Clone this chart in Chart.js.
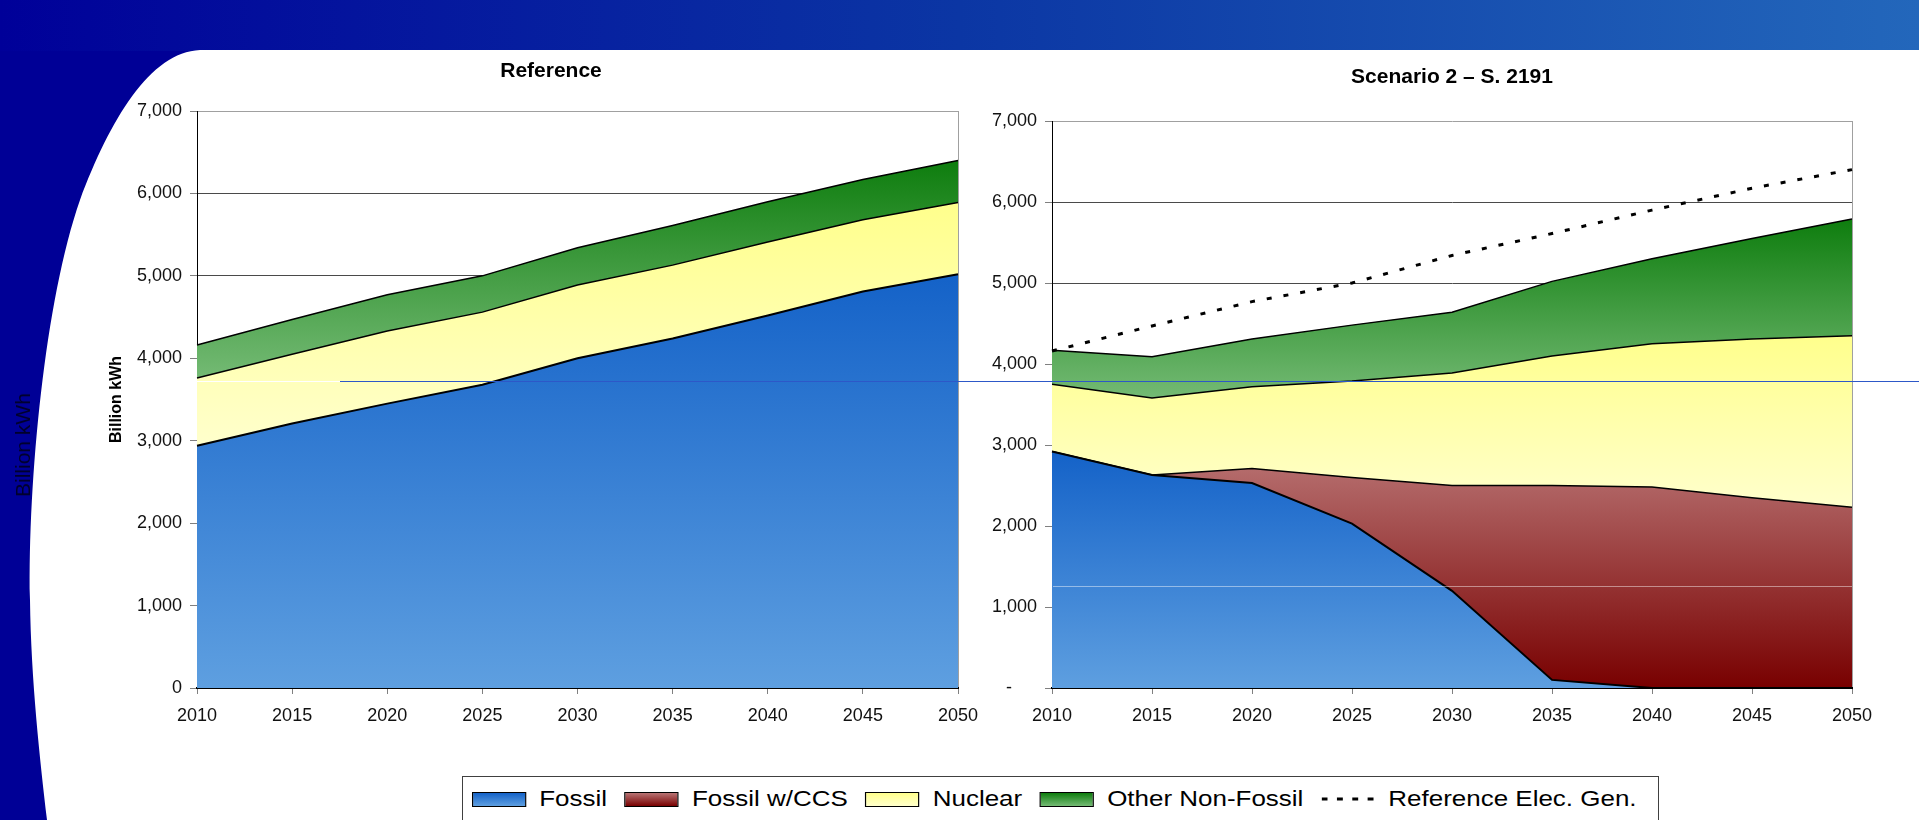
<!DOCTYPE html>
<html>
<head>
<meta charset="utf-8">
<script src="https://cdn.jsdelivr.net/npm/chart.js@4.4.0/dist/chart.umd.min.js"></script>
<style>
  html, body { margin: 0; padding: 0; }
  body { width: 1919px; height: 820px; overflow: hidden; position: relative; background: #fff;
         font-family: "Liberation Sans", Arial, sans-serif; }
  #deco { position: absolute; left: 0; top: 0; }
  #refChart { position: absolute; left: 100px; top: 50px; }
  #s2Chart { position: absolute; left: 980px; top: 50px; }
  .sideLabel { position: absolute; left: 23px; top: 445px; transform: translate(-50%, -50%) rotate(-90deg);
               font-size: 21px; color: #00002a; white-space: nowrap; }
  .hline { position: absolute; height: 1px; }
  #legend { position: absolute; left: 462px; top: 776px; width: 1197px; height: 60px; box-sizing: border-box;
            border: 1px solid #404040; background: #fff; }
  #legendRow { position: absolute; left: 9px; top: 14px; height: 16px; display: flex; align-items: center;
               transform: scaleX(1.18); transform-origin: 0 50%; font-size: 22px; white-space: nowrap; color: #000; }
  .sw { width: 46px; height: 15px; border: 1px solid #000; box-sizing: border-box; margin-right: 11px; }
  .lt { margin-right: 15px; line-height: 16px; }
  .dash { margin-right: 11px; }
</style>
</head>
<body>
<canvas id="deco" width="1919" height="820"></canvas>
<div class="sideLabel">Billion kWh</div>
<canvas id="refChart" width="902" height="710"></canvas>
<canvas id="s2Chart" width="944" height="710"></canvas>
<div class="hline" style="left:197px; top:381px; width:143px; background:#ffffff;"></div>
<div class="hline" style="left:340px; top:381px; width:1579px; background:#2d58c8;"></div>
<div class="hline" style="left:1053px; top:586px; width:799px; background:rgba(255,255,255,0.45);"></div>
<div id="legend"><div id="legendRow"></div></div>

<script>
// years on the x axis
const years = ['2010', '2015', '2020', '2025', '2030', '2035', '2040', '2045', '2050'];

// Reference case (billion kWh)
const refFossil = [2940, 3210, 3450, 3680, 4000, 4240, 4520, 4810, 5020];
const refNuclear = [820, 840, 880, 880, 890, 890, 890, 870, 870];
const refOther = [400, 420, 440, 440, 450, 480, 490, 490, 510];
const refElecGen = [4160, 4470, 4770, 5000, 5340, 5610, 5900, 6170, 6400];

// Scenario 2 - S. 2191 (billion kWh)
const s2Fossil = [2920, 2630, 2530, 2030, 1200, 100, 0, 0, 0];
const s2Ccs = [0, 0, 180, 570, 1300, 2400, 2480, 2350, 2230];
const s2Nuclear = [830, 950, 1010, 1190, 1390, 1600, 1770, 1960, 2120];
const s2Other = [420, 510, 590, 690, 750, 920, 1050, 1240, 1440];

const yTicks = [0, 1000, 2000, 3000, 4000, 5000, 6000, 7000];

const colors = {
  fossil: ['#1462c8', '#5e9fe0'],
  ccs: ['#b97474', '#780000'],
  nuclear: ['#ffff8c', '#ffffcc'],
  other: ['#0e7d0e', '#74ba74']
};

Chart.defaults.font.family = '"Liberation Sans", Arial, sans-serif';
Chart.defaults.color = '#111';

// deco: slide background
const d = document.getElementById('deco').getContext('2d');
d.fillStyle = '#000096';
d.fillRect(0, 0, 220, 820);
let banner = d.createLinearGradient(0, 0, 1919, 0);
banner.addColorStop(0, '#000099');
banner.addColorStop(0.5, '#0b36a4');
banner.addColorStop(1, '#2367bb');
d.fillStyle = banner;
d.fillRect(0, 0, 1919, 51);
d.fillStyle = '#fff';
d.beginPath();
d.moveTo(1919, 50);
d.lineTo(200, 50);
d.bezierCurveTo(150, 52, 110, 120, 80, 200);
d.bezierCurveTo(45, 300, 28, 480, 30, 600);
d.bezierCurveTo(31, 680, 40, 760, 47, 820);
d.lineTo(1919, 820);
d.closePath();
d.fill();

function addUp(a, b) {
  return a.map((v, i) => v + b[i]);
}

function vGradient(chart, hi, lo, c) {
  if (!chart.chartArea) return c[1];
  let y = chart.scales.y;
  let g = chart.ctx.createLinearGradient(0, y.getPixelForValue(hi), 0, y.getPixelForValue(lo));
  g.addColorStop(0, c[0]);
  g.addColorStop(1, c[1]);
  return g;
}

function area(label, data, fill, c, lo, hi, bw) {
  return {
    label: label,
    data: data,
    fill: fill,
    borderColor: '#000',
    borderWidth: bw,
    pointRadius: 0,
    tension: 0,
    backgroundColor: (ctx) => vGradient(ctx.chart, hi, lo, c)
  };
}

function makeScales(yWidth, rightGap, zeroLabel, withTitle) {
  return {
    x: {
      type: 'category',
      offset: false,
      grid: {
        drawOnChartArea: true,
        color: (ctx) => ctx.index === years.length - 1 ? '#a0a0a0' : 'rgba(0,0,0,0)',
        tickColor: '#808080',
        tickLength: 6
      },
      border: { color: '#000', width: 2 },
      ticks: { font: { size: 18 }, color: '#111', padding: 11, maxRotation: 0, autoSkip: false },
      afterFit: (s) => { s.height = 72; }
    },
    y: {
      stacked: true,
      min: 0,
      max: 7000,
      afterBuildTicks: (s) => { s.ticks = yTicks.map((v) => ({ value: v })); },
      ticks: {
        font: { size: 18 },
        color: '#111',
        padding: 8,
        callback: (v) => v === 0 ? zeroLabel : v.toLocaleString('en-US')
      },
      grid: {
        color: (ctx) => ctx.tick.value === 7000 ? '#a0a0a0' : (ctx.tick.value === 0 ? 'rgba(0,0,0,0)' : '#4a4a4a'),
        tickColor: '#808080',
        tickLength: 7
      },
      border: { color: '#000', width: 1 },
      title: {
        display: withTitle,
        text: 'Billion kWh',
        font: { size: 16, weight: 'bold' },
        color: '#000',
        padding: { top: 7, bottom: 0 }
      },
      afterFit: (s) => { s.width = yWidth; }
    },
    // empty right-hand axis, only keeps the gap right of the plot
    gap: {
      type: 'linear',
      position: 'right',
      display: true,
      grid: { display: false },
      border: { display: false },
      ticks: { display: false },
      afterFit: (s) => { s.width = rightGap; }
    }
  };
}

function makeOptions(title, padTop, padBottom, yWidth, rightGap, zeroLabel, withTitle) {
  return {
    responsive: false,
    animation: false,
    layout: { padding: 0 },
    plugins: {
      legend: { display: false },
      tooltip: { enabled: false },
      title: {
        display: true,
        text: title,
        color: '#000',
        font: { size: 21, weight: 'bold' },
        padding: { top: padTop, bottom: padBottom }
      }
    },
    scales: makeScales(yWidth, rightGap, zeroLabel, withTitle)
  };
}

// Reference chart
let refNucTop = addUp(refFossil, refNuclear);
let refTotal = addUp(refNucTop, refOther);
new Chart(document.getElementById('refChart'), {
  type: 'line',
  data: {
    labels: years,
    datasets: [
      area('Fossil', refFossil, 'origin', colors.fossil, 0, Math.max(...refFossil), 2),
      area('Nuclear', refNuclear, '-1', colors.nuclear, Math.min(...refFossil), Math.max(...refNucTop), 1.5),
      area('Other Non-Fossil', refOther, '-1', colors.other, Math.min(...refNucTop), Math.max(...refTotal), 1.5)
    ]
  },
  options: makeOptions('Reference', 8.4, 27.4, 97, 44, '0', true)
});

// Scenario 2 chart
let s2CcsTop = addUp(s2Fossil, s2Ccs);
let s2NucTop = addUp(s2CcsTop, s2Nuclear);
let s2Total = addUp(s2NucTop, s2Other);
new Chart(document.getElementById('s2Chart'), {
  type: 'line',
  data: {
    labels: years,
    datasets: [
      area('Fossil', s2Fossil, 'origin', colors.fossil, 0, Math.max(...s2Fossil), 2),
      area('Fossil w/CCS', s2Ccs, '-1', colors.ccs, 0, Math.max(...s2CcsTop), 1.5),
      area('Nuclear', s2Nuclear, '-1', colors.nuclear, Math.min(...s2CcsTop), Math.max(...s2NucTop), 1.5),
      area('Other Non-Fossil', s2Other, '-1', colors.other, Math.min(...s2NucTop), Math.max(...s2Total), 1.5),
      {
        label: 'Reference Elec. Gen.',
        data: refElecGen,
        stack: 'ref',
        order: -1,
        fill: false,
        borderColor: '#000',
        borderWidth: 3,
        borderDash: [5, 12],
        pointRadius: 0,
        tension: 0
      }
    ]
  },
  options: makeOptions('Scenario 2 \u2013 S. 2191', 14.4, 31.4, 72, 72, '-     ', false)
});

// legend built from the series names
const legendItems = [
  ['Fossil', colors.fossil],
  ['Fossil w/CCS', colors.ccs],
  ['Nuclear', colors.nuclear],
  ['Other Non-Fossil', colors.other]
];
let row = document.getElementById('legendRow');
legendItems.forEach(([name, c]) => {
  let sw = document.createElement('span');
  sw.className = 'sw';
  sw.style.background = 'linear-gradient(' + c[0] + ',' + c[1] + ')';
  let lt = document.createElement('span');
  lt.className = 'lt';
  lt.textContent = name;
  row.appendChild(sw);
  row.appendChild(lt);
});
let dash = document.createElementNS('http://www.w3.org/2000/svg', 'svg');
dash.setAttribute('width', '46');
dash.setAttribute('height', '16');
dash.setAttribute('class', 'dash');
dash.innerHTML = '<line x1="0" y1="8" x2="46" y2="8" stroke="#000" stroke-width="3" stroke-dasharray="5 8"/>';
row.appendChild(dash);
let lastText = document.createElement('span');
lastText.className = 'lt';
lastText.textContent = 'Reference Elec. Gen.';
row.appendChild(lastText);
</script>
</body>
</html>
